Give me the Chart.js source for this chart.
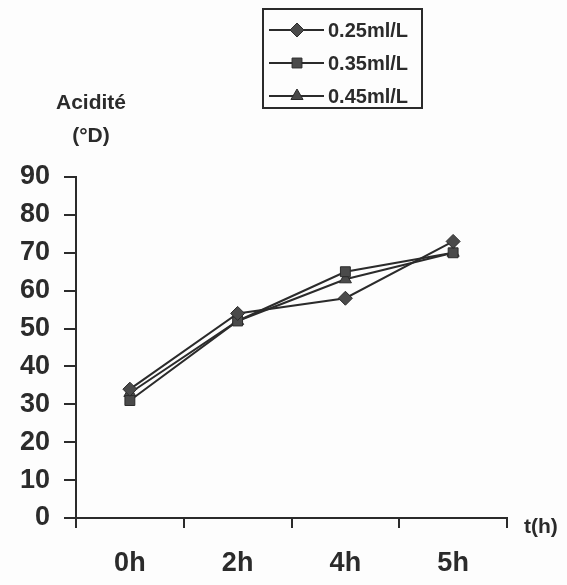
<!DOCTYPE html>
<html>
<head>
<meta charset="utf-8">
<script src="https://cdn.jsdelivr.net/npm/chart.js@4/dist/chart.umd.min.js"></script>
<style>
  html, body { margin: 0; padding: 0; background: #fdfdfd; }
  #wrap { width: 567px; height: 585px; position: relative; }
</style>
</head>
<body>
<div id="wrap"><canvas id="acid"></canvas></div>
<script>
const times = ['0h', '2h', '4h', '5h']
const dose025 = [34, 54, 58, 73]
const dose035 = [31, 52, 65, 70]
const dose045 = [33, 52, 63, 70]
const seriesNames = ['0.25ml/L', '0.35ml/L', '0.45ml/L']
const yTitle = ['Acidité', '(°D)']
const xTitle = 't(h)'

const ink = '#2b2b2b'
const font = "'Liberation Sans', Arial, sans-serif"

function series(label, data, style, radius) {
    return {
        label: label,
        data: data,
        borderColor: ink,
        borderWidth: 2,
        backgroundColor: '#3a3a3a',
        pointStyle: style,
        pointRadius: radius,
        pointBorderColor: ink,
        pointBorderWidth: 1,
        pointBackgroundColor: '#4a4a4a',
        tension: 0
    }
}

// boxed legend + axis captions drawn straight onto the canvas
const decorations = {
    id: 'decorations',
    afterDraw(chart) {
        const ctx = chart.ctx
        ctx.save()

        // legend frame
        ctx.strokeStyle = ink
        ctx.lineWidth = 2
        ctx.strokeRect(263, 9, 159, 99)

        ctx.font = `bold 20px ${font}`
        ctx.textBaseline = 'middle'
        ctx.textAlign = 'left'
        chart.data.datasets.forEach((ds, i) => {
            const y = 30 + i * 33
            ctx.strokeStyle = ink
            ctx.lineWidth = 2
            ctx.beginPath()
            ctx.moveTo(269, y)
            ctx.lineTo(324, y)
            ctx.stroke()
            ctx.fillStyle = ds.pointBackgroundColor
            ctx.strokeStyle = ink
            ctx.lineWidth = 1
            Chart.helpers.drawPoint(ctx, {
                pointStyle: ds.pointStyle,
                radius: ds.pointRadius,
                rotation: 0,
                borderWidth: 1
            }, 297, y)
            ctx.fillStyle = ink
            ctx.fillText(ds.label, 328, y + 1)
        })

        // axis captions
        ctx.fillStyle = ink
        ctx.textAlign = 'center'
        ctx.font = `bold 21px ${font}`
        ctx.fillText(yTitle[0], 91, 103)
        ctx.fillText(yTitle[1], 91, 136)
        ctx.textAlign = 'left'
        ctx.fillText(xTitle, 524, 527)

        ctx.restore()
    }
}

new Chart(document.getElementById('acid'), {
    type: 'line',
    data: {
        labels: times,
        datasets: [
            series(seriesNames[0], dose025, 'rectRot', 7),
            series(seriesNames[1], dose035, 'rect', 7),
            series(seriesNames[2], dose045, 'triangle', 7)
        ]
    },
    options: {
        responsive: true,
        maintainAspectRatio: false,
        animation: false,
        layout: { padding: { top: 177, right: 60, left: 0, bottom: 0 } },
        plugins: {
            legend: { display: false },
            tooltip: { enabled: false }
        },
        scales: {
            x: {
                type: 'category',
                offset: true,
                grid: {
                    offset: true,
                    drawOnChartArea: false,
                    drawTicks: true,
                    tickLength: 10,
                    color: ink,
                    lineWidth: 2
                },
                border: { display: true, color: ink, width: 2 },
                ticks: {
                    color: ink,
                    padding: 19,
                    font: { family: font, size: 27, weight: 'bold' }
                },
                afterFit(scale) { scale.height = 67 }
            },
            y: {
                min: 0,
                max: 90,
                ticks: {
                    stepSize: 10,
                    color: ink,
                    padding: 14,
                    font: { family: font, size: 27, weight: 'bold' }
                },
                grid: {
                    drawOnChartArea: false,
                    drawTicks: true,
                    tickLength: 12,
                    color: ink,
                    lineWidth: 2
                },
                border: { display: true, color: ink, width: 2 },
                afterFit(scale) { scale.width = 76 }
            }
        }
    },
    plugins: [decorations]
})
</script>
</body>
</html>
